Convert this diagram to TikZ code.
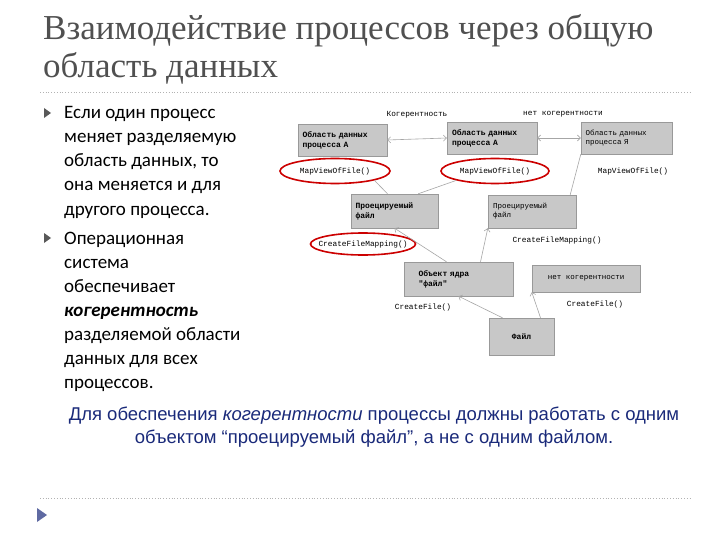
\documentclass[tikz,border=0pt]{standalone}
\usepackage{fontspec}
\setmainfont{Carlito}
\newfontfamily\titlefont{Liberation Serif}
\newfontfamily\arialf{Liberation Sans}
\newfontfamily\monof{Liberation Mono}
\usetikzlibrary{arrows.meta,shapes.geometric}
\definecolor{boxfill}{HTML}{C8C8C8}
\definecolor{titlegray}{HTML}{505050}
\definecolor{bluetxt}{HTML}{1A2A7A}
\begin{document}
\begin{tikzpicture}[x=1pt,y=-1pt,
  gbox/.style={draw=gray!80,fill=boxfill,inner sep=0pt,font=\monof\fontsize{8}{10}\selectfont\bfseries,align=left},
  redell/.style={draw=red!80!black,line width=1.6pt,ellipse,inner sep=0pt},
  lbl/.style={font=\monof\fontsize{7.8}{9}\selectfont,inner sep=1pt},
  con/.style={draw=gray!70,line width=0.6pt},
  btxt/.style={anchor=base west,font=\fontsize{19}{22}\selectfont,inner sep=0pt}]
\useasboundingbox (0,0) rectangle (720,540);
\fill[white] (0,0) rectangle (720,540);
% title
\node[anchor=base west,font=\titlefont\fontsize{35}{38}\selectfont,text=titlegray,inner sep=0pt] (t1) at (43,40) {Взаимодействие процессов через общую};
\node[anchor=base west,font=\titlefont\fontsize{35}{38}\selectfont,text=titlegray,inner sep=0pt] (t2) at (43,78) {область данных};
\draw[gray!60,dotted,line width=0.8pt] (40,92) -- (690,92);
\draw[gray!60,dotted,line width=0.8pt] (40,498) -- (690,498);
% bullets
\foreach \y in {113,238}{\fill[gray!70!black] (44,\y-5) -- (51,\y) -- (44,\y+5) -- cycle;}
\node[btxt] (l1) at (64,119) {Если один процесс};
\node[btxt] (l2) at (64,143) {меняет разделяемую};
\node[btxt] (l3) at (64,167) {область данных, то};
\node[btxt] (l4) at (64,191) {она меняется и для};
\node[btxt] (l5) at (64,215) {другого процесса.};
\node[btxt] (m1) at (64,244) {Операционная};
\node[btxt] (m2) at (64,268) {система};
\node[btxt] (m3) at (64,292) {обеспечивает};
\node[btxt] (m4) at (64,316) {\textbf{\textit{когерентность}}};
\node[btxt] (m5) at (64,340) {разделяемой области};
\node[btxt] (m6) at (64,364) {данных для всех};
\node[btxt] (m7) at (64,388) {процессов.};
% bottom text
\node[font=\arialf\fontsize{18.5}{23}\selectfont,text=bluetxt,align=center] (bt) at (374,427) {Для обеспечения \textit{когерентности} процессы должны работать с одним\\объектом “проецируемый файл”, а не с одним файлом.};
\fill[bluetxt!70] (37,508) -- (47,515) -- (37,522) -- cycle;
% diagram boxes
\node[gbox,minimum width=89,minimum height=32,text width=80] (A1) at (342.5,140) {Область данных\\ процесса А};
\node[gbox,minimum width=90,minimum height=32,text width=80] (A2) at (492,138) {Область данных\\ процесса А};
\node[gbox,minimum width=91,minimum height=32,text width=82,font=\monof\fontsize{7.5}{9}\selectfont] (B) at (626.5,138) {Область данных\\ процесса Я};
\node[gbox,minimum width=87,minimum height=34,text width=78] (P1) at (394.5,211) {Проецируемый\\ файл};
\node[gbox,minimum width=88,minimum height=33,text width=78,font=\monof\fontsize{7.5}{9}\selectfont] (P2) at (532,211.5) {Проецируемый\\ файл};
\node[gbox,minimum width=109,minimum height=34,text width=80] (K) at (458.5,279) {Объект ядра\\ "файл"};
\node[gbox,minimum width=108,minimum height=27,align=center,font=\monof\fontsize{7.5}{9}\selectfont] (N) at (586,278.5) {нет когерентности};
\node[gbox,minimum width=65,minimum height=37,align=center] (F) at (521.5,336.5) {Файл};
% labels
\node[lbl] (kg) at (417,115) {Когерентность};
\node[lbl] (nk) at (563,114) {нет когерентности};
\node[lbl] (e1t) at (335,171) {MapViewOfFile()};
\node[redell,minimum width=110,minimum height=25] (e1) at (335,171) {};
\node[lbl] (e2t) at (495,171) {MapViewOfFile()};
\node[redell,minimum width=108,minimum height=25] (e2) at (495,171) {};
\node[lbl] (m3l) at (633,171) {MapViewOfFile()};
\node[lbl] (c1t) at (363,244) {CreateFileMapping()};
\node[redell,minimum width=105,minimum height=22] (e3) at (363,244) {};
\node[lbl] (c2t) at (557,240) {CreateFileMapping()};
\node[lbl] (cf1) at (423,307) {CreateFile()};
\node[lbl] (cf2) at (595,304) {CreateFile()};
% connectors
\draw[con,{Straight Barb[length=3pt]}-{Straight Barb[length=3pt]}] (A1.east) -- (A2.west);
\draw[con,{Straight Barb[length=3pt]}-{Straight Barb[length=3pt]}] (A2.east) -- (B.west);
\draw[con] (P1.north) ++(-7,0) coordinate (p1a) -- (e1.south east);
\draw[con] (P1.north east) ++(-20,0) coordinate (p1b) -- (e2.south west);
\draw[con] (P2.north east) ++(-6,0) coordinate (p2a) -- (B.south west);
\draw[con,-{Straight Barb[length=3pt]}] (K.north) ++(-12,0) coordinate (ka) -- (P1.south);
\draw[con,-{Straight Barb[length=3pt]}] (K.north) ++(22,0) coordinate (kb) -- (P2.south west);
\draw[con,-{Straight Barb[length=3pt]}] (F.north) ++(-19,0) coordinate (fa) -- (K.south);
\draw[con,-{Straight Barb[length=3pt]}] (F.north) ++(19,0) coordinate (fb) -- (N.south west);
\end{tikzpicture}
\end{document}
